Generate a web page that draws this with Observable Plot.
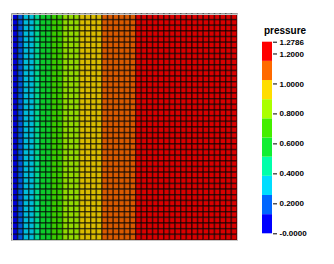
<!DOCTYPE html>
<html>
<head>
<meta charset="utf-8">
<script src="https://cdn.jsdelivr.net/npm/d3@7"></script>
<script src="https://cdn.jsdelivr.net/npm/@observablehq/plot@0.6"></script>
<style>
  html, body { margin: 0; padding: 0; background: #fff; }
  #wrap { position: relative; width: 334px; height: 264px; overflow: hidden; font-family: "Liberation Sans", Arial, sans-serif; }
  #wrap > svg, #wrap > div { position: absolute; }
  #title { left: 250px; width: 70px; top: 25px; text-align: center; font-size: 10px; line-height: 12px; font-weight: bold; color: #000; }
</style>
</head>
<body>
<div id="wrap"><div id="title">pressure</div></div>
<script>
// Pressure value per mesh column (left to right), field is constant along y
const pressure = [0.05, 0.19, 0.30, 0.37, 0.45, 0.53, 0.60, 0.66, 0.72, 0.79,
                  0.85, 0.88, 0.91, 0.94, 0.97, 1.01, 1.04, 1.07, 1.09, 1.11,
                  1.13, 1.145, 1.16, 1.172, 1.184, 1.195, 1.205, 1.214, 1.223, 1.231,
                  1.238, 1.245, 1.251, 1.257, 1.262, 1.266, 1.270, 1.273, 1.276, 1.2786];
const nRows = 40;
const pMin = 0;
const pMax = 1.2786;
const nBands = 10;
const tickValues = [0, 0.2, 0.4, 0.6, 0.8, 1.0, 1.2, 1.2786];
const tickLabels = ["-0.0000", "0.2000", "0.4000", "0.6000", "0.8000", "1.0000", "1.2000", "1.2786"];

// palette (bottom to top)
const bandColors = ["#0000ff", "#0066ff", "#00ddff", "#00ffaa", "#11ee33",
                    "#44ee00", "#aaff00", "#ffdd00", "#ff6a00", "#ff0000"];

const step = (pMax - pMin) / nBands;
const thresholds = d3.range(1, nBands).map(i => pMin + i * step);
const bands = d3.range(nBands).map(i => ({lo: pMin + i * step, hi: pMin + (i + 1) * step}));

const cells = [];
for (let r = 0; r < nRows; r++) {
  pressure.forEach((p, c) => cells.push({row: r, col: c, p}));
}

const meshColors = bandColors.map(c => d3.color(c).darker(0.45).formatHex());

const wrap = document.getElementById("wrap");

const main = Plot.plot({
  width: 334, height: 264,
  marginLeft: 12, marginRight: 97, marginTop: 14, marginBottom: 24,
  x: {type: "band", domain: d3.range(pressure.length), padding: 0, round: false, axis: null},
  y: {type: "band", domain: d3.range(nRows), padding: 0, round: false, axis: null},
  color: {type: "threshold", domain: thresholds, range: meshColors},
  style: {background: "transparent"},
  marks: [
    Plot.cell(cells, {x: "col", y: "row", fill: "p", stroke: "#000", strokeOpacity: 0.55, strokeWidth: 1.5}),
    Plot.frame({stroke: "#c8c8c8"})
  ]
});
main.style.left = "0px"; main.style.top = "0px";
wrap.appendChild(main);

const legend = Plot.plot({
  width: 94, height: 264,
  marginLeft: 22, marginRight: 62, marginTop: 41.7, marginBottom: 30.7,
  x: {domain: [0, 1], axis: null},
  y: {domain: [pMin, pMax], axis: null},
  color: {type: "threshold", domain: thresholds, range: bandColors},
  style: {background: "transparent", fontFamily: "Liberation Sans, Arial, sans-serif", fontSize: "8px", fontWeight: "bold", color: "#000"},
  marks: [
    Plot.rect(bands, {y1: "lo", y2: "hi", fill: d => (d.lo + d.hi) / 2}),
    Plot.axisY({anchor: "right", ticks: tickValues, tickSize: 4, tickPadding: 3,
      tickFormat: d => tickLabels[tickValues.indexOf(d)], stroke: "#000", fill: "#000"})
  ]
});
legend.style.left = "240px"; legend.style.top = "0px";
wrap.appendChild(legend);
</script>
</body>
</html>
